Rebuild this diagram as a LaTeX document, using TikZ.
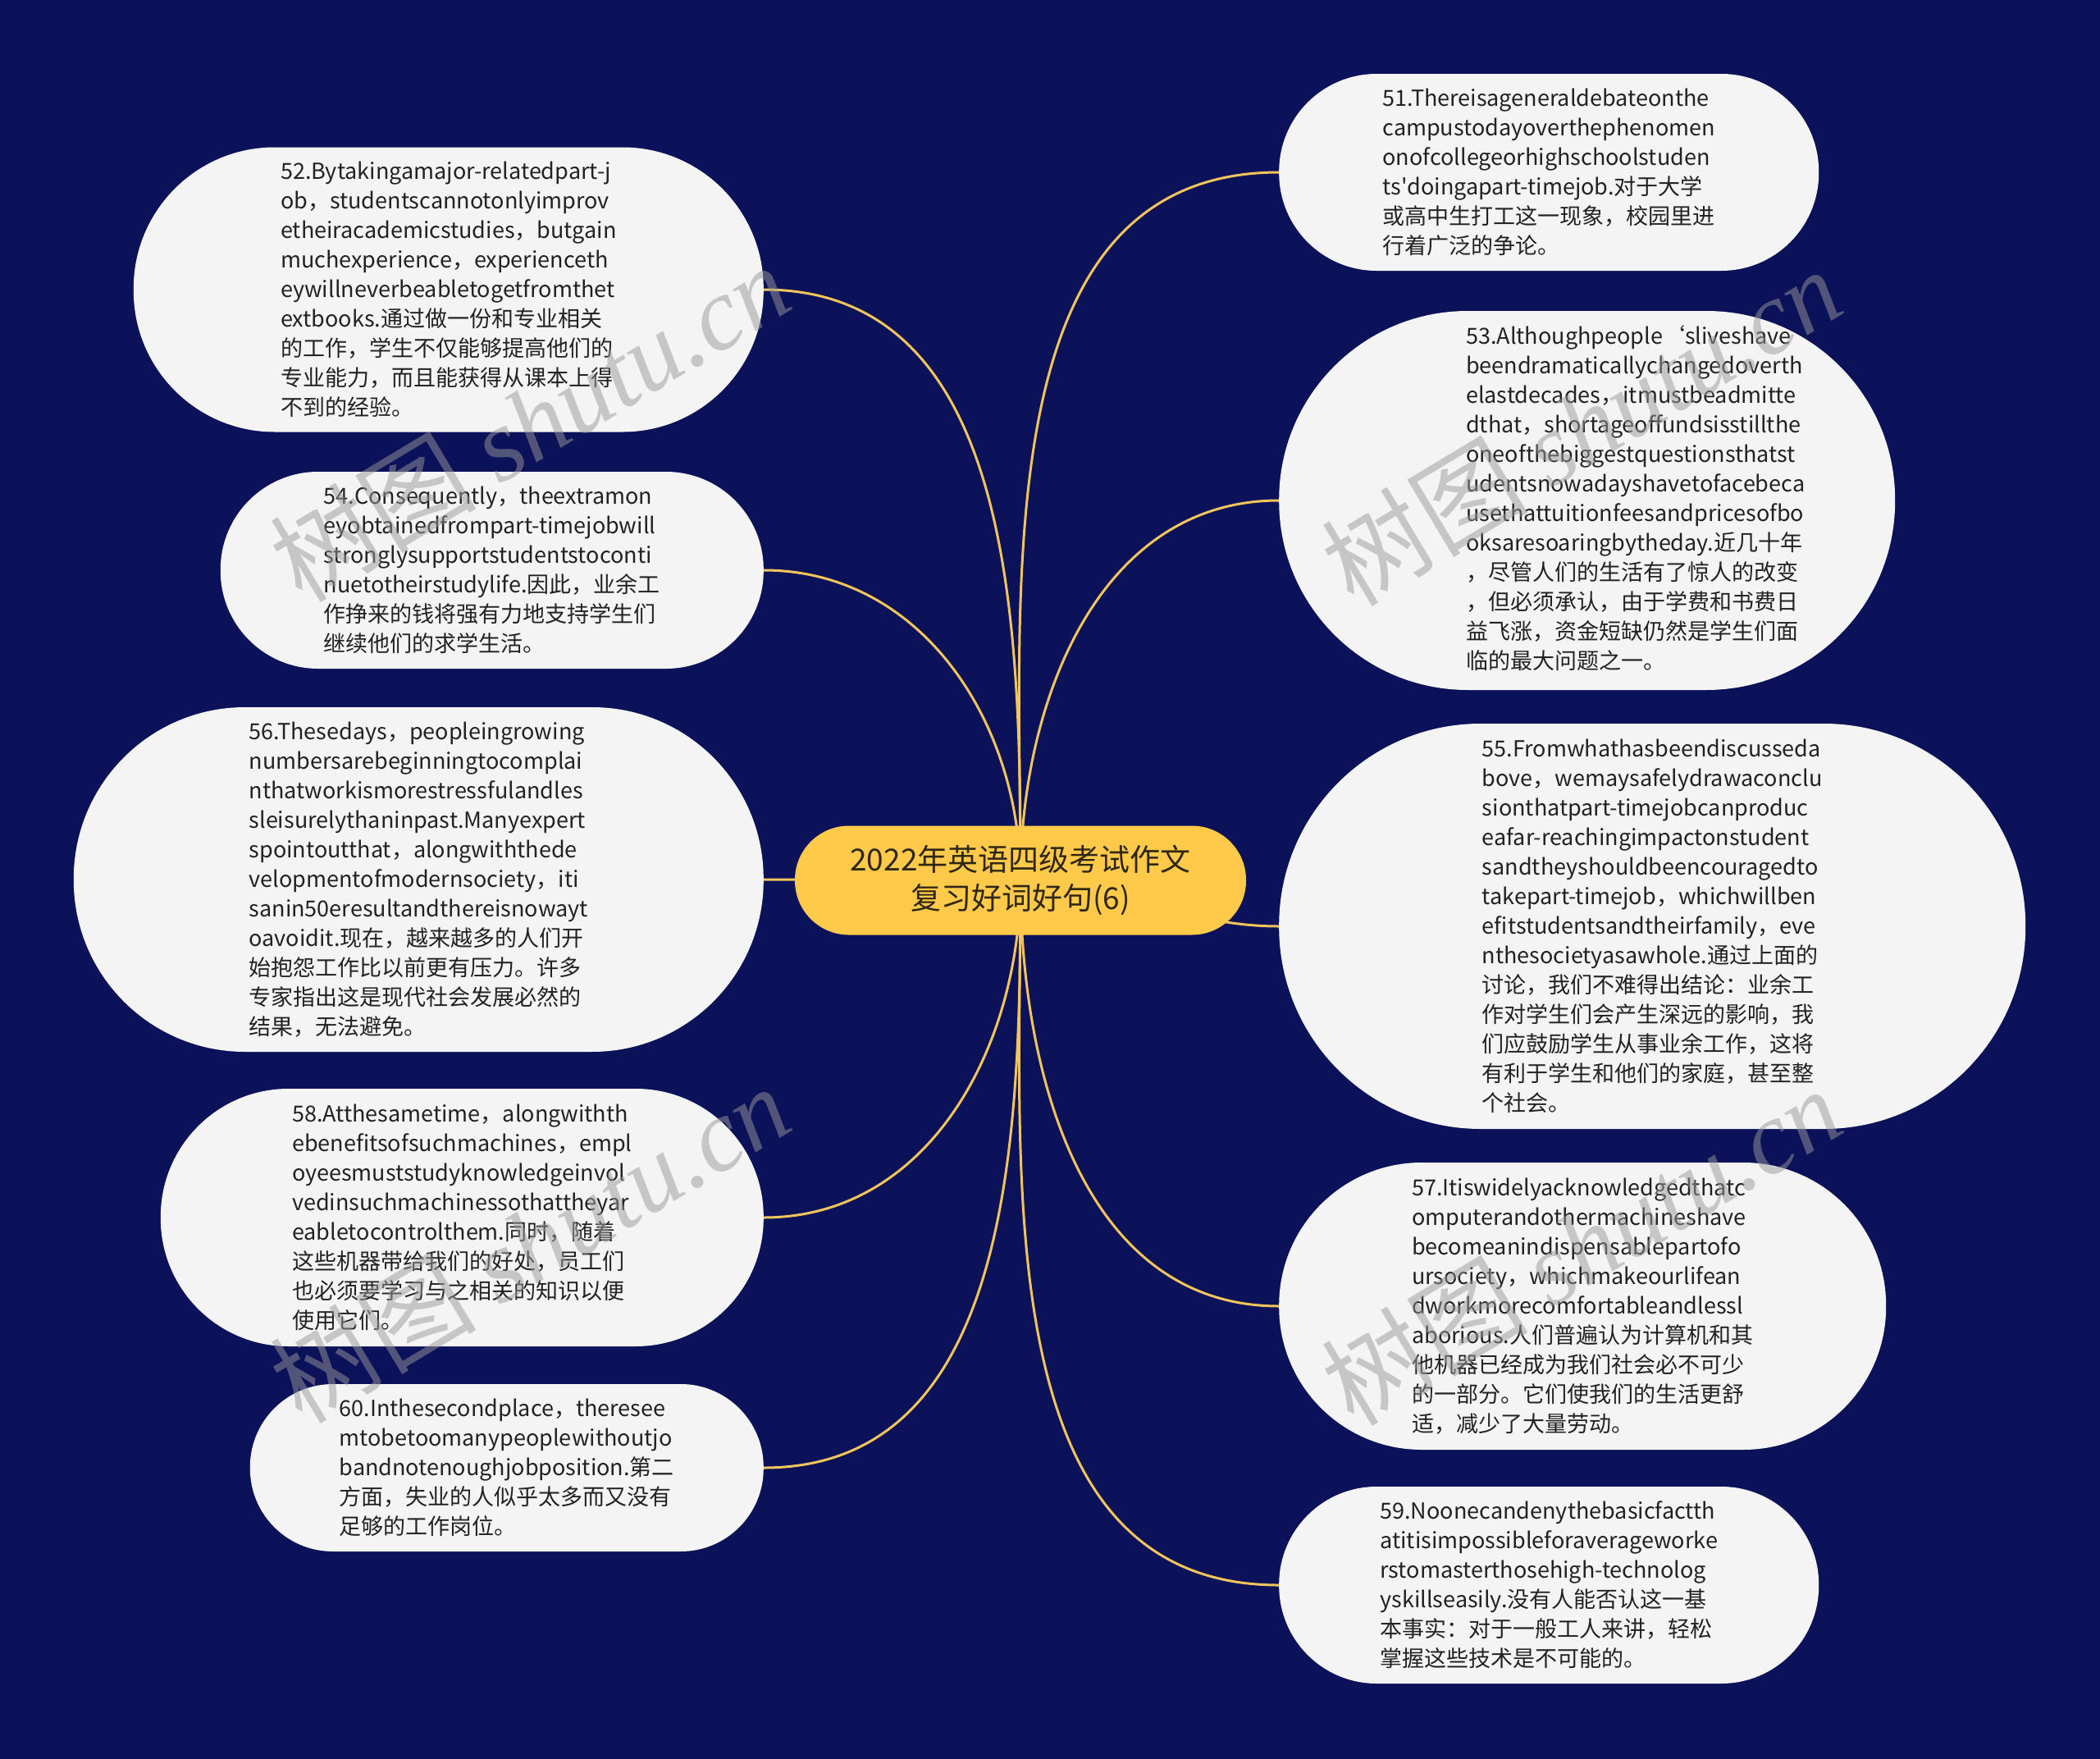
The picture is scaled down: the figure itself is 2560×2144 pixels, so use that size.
\documentclass[tikz,border=0pt]{standalone}
\usepackage{fontspec}
\setmainfont{Noto Sans CJK SC}
\newfontfamily\wmlatin{Liberation Serif}
\definecolor{bgnavy}{HTML}{0C1259}
\definecolor{leaffill}{HTML}{F4F4F5}
\definecolor{hubfill}{HTML}{FFC94A}
\definecolor{linkcol}{HTML}{F2C55C}
\definecolor{leaftext}{HTML}{222222}
\definecolor{hubtext}{HTML}{2E2812}
\pgfdeclarelayer{backlayer}
\pgfdeclarelayer{linklayer}
\pgfsetlayers{backlayer,linklayer,main}
\newcommand{\wmtext}{\fontsize{126}{126}\selectfont 树图\ {\wmlatin\itshape shutu.cn}}
\begin{document}
\begin{tikzpicture}[x=1pt,y=-1pt,
  leaf/.style n args={3}{fill=leaffill, text=leaftext, align=left, inner sep=0pt,
    minimum width=#1, minimum height=#2, rounded corners=#3,
    font=\fontsize{27}{36}\selectfont},
  hub/.style={fill=hubfill, text=hubtext, align=center, inner sep=0pt,
    minimum width=550pt, minimum height=133pt, rounded corners=66pt,
    font=\fontsize{37}{47}\selectfont},
  link/.style={draw=linkcol, line width=3pt},
  wm/.style={text=black!40, opacity=0.5, rotate=31, inner sep=0pt}
]
\begin{pgfonlayer}{backlayer}
\fill[bgnavy] (0,0) rectangle (2560,2144);
\end{pgfonlayer}
\useasboundingbox (0,0) rectangle (2560,2144);

\node[hub] (c) at (1244,1073) {2022年英语四级考试作文\\复习好词好句(6)};

% left side
\node[leaf={768pt}{347pt}{172pt}, anchor=east] (n52) at (931,353) {52.Bytakingamajor-relatedpart-j\\ob，studentscannotonlyimprov\\etheiracademicstudies，butgain\\muchexperience，experienceth\\eywillneverbeabletogetfromthet\\extbooks.通过做一份和专业相关\\的工作，学生不仅能够提高他们的\\专业能力，而且能获得从课本上得\\不到的经验。};
\node[leaf={662pt}{240pt}{119pt}, anchor=east] (n54) at (931,695) {54.Consequently，theextramon\\eyobtainedfrompart-timejobwill\\stronglysupportstudentstoconti\\nuetotheirstudylife.因此，业余工\\作挣来的钱将强有力地支持学生们\\继续他们的求学生活。};
\node[leaf={841pt}{420pt}{209pt}, anchor=east] (n56) at (931,1072) {56.Thesedays，peopleingrowing\\numbersarebeginningtocomplai\\nthatworkismorestressfulandles\\sleisurelythaninpast.Manyexpert\\spointoutthat，alongwiththede\\velopmentofmodernsociety，iti\\sanin50eresultandthereisnowayt\\oavoidit.现在，越来越多的人们开\\始抱怨工作比以前更有压力。许多\\专家指出这是现代社会发展必然的\\结果，无法避免。};
\node[leaf={735pt}{314pt}{156pt}, anchor=east] (n58) at (931,1484) {58.Atthesametime，alongwithth\\ebenefitsofsuchmachines，empl\\oyeesmuststudyknowledgeinvol\\vedinsuchmachinessothattheyar\\eabletocontrolthem.同时，随着\\这些机器带给我们的好处，员工们\\也必须要学习与之相关的知识以便\\使用它们。};
\node[leaf={626pt}{204pt}{101pt}, anchor=east] (n60) at (931,1789) {60.Inthesecondplace，theresee\\mtobetoomanypeoplewithoutjo\\bandnotenoughjobposition.第二\\方面，失业的人似乎太多而又没有\\足够的工作岗位。};

% right side
\node[leaf={658pt}{240pt}{119pt}, anchor=west] (n51) at (1559,210) {51.Thereisageneraldebateonthe\\campustodayoverthephenomen\\onofcollegeorhighschoolstuden\\ts\textquotesingle{}doingapart-timejob.对于大学\\或高中生打工这一现象，校园里进\\行着广泛的争论。};
\node[leaf={751pt}{462pt}{230pt}, anchor=west] (n53) at (1559,610) {\hspace*{118pt}\begin{tabular}{@{}l@{}}53.Althoughpeople‘sliveshave\\beendramaticallychangedoverth\\elastdecades，itmustbeadmitte\\dthat，shortageoffundsisstillthe\\oneofthebiggestquestionsthatst\\udentsnowadayshavetofacebeca\\usethattuitionfeesandpricesofbo\\oksaresoaringbytheday.近几十年\\，尽管人们的生活有了惊人的改变\\，但必须承认，由于学费和书费日\\益飞涨，资金短缺仍然是学生们面\\临的最大问题之一。\end{tabular}};
\node[leaf={910pt}{494pt}{246pt}, anchor=west] (n55) at (1559,1129) {55.Fromwhathasbeendiscusseda\\bove，wemaysafelydrawaconclu\\sionthatpart-timejobcanproduc\\eafar-reachingimpactonstudent\\sandtheyshouldbeencouragedto\\takepart-timejob，whichwillben\\efitstudentsandtheirfamily，eve\\nthesocietyasawhole.通过上面的\\讨论，我们不难得出结论：业余工\\作对学生们会产生深远的影响，我\\们应鼓励学生从事业余工作，这将\\有利于学生和他们的家庭，甚至整\\个社会。};
\node[leaf={740pt}{350pt}{174pt}, anchor=west] (n57) at (1559,1592) {57.Itiswidelyacknowledgedthatc\\omputerandothermachineshave\\becomeanindispensablepartofo\\ursociety，whichmakeourlifean\\dworkmorecomfortableandlessl\\aborious.人们普遍认为计算机和其\\他机器已经成为我们社会必不可少\\的一部分。它们使我们的生活更舒\\适，减少了大量劳动。};
\node[leaf={658pt}{240pt}{119pt}, anchor=west] (n59) at (1559,1932) {59.Noonecandenythebasicfactth\\atitisimpossibleforaverageworke\\rstomasterthosehigh-technolog\\yskillseasily.没有人能否认这一基\\本事实：对于一般工人来讲，轻松\\掌握这些技术是不可能的。};

\begin{pgfonlayer}{linklayer}
\draw[link] (c.center) to[out=90,in=0] (n52.east);
\draw[link] (c.center) to[out=90,in=0] (n54.east);
\draw[link] (c.center) to[out=180,in=0] (n56.east);
\draw[link] (c.center) to[out=270,in=0] (n58.east);
\draw[link] (c.center) to[out=270,in=0] (n60.east);
\draw[link] (c.center) to[out=90,in=180] (n51.west);
\draw[link] (c.center) to[out=90,in=180] (n53.west);
\draw[link] (c.center) to[out=0,in=180] (n55.west);
\draw[link] (c.center) to[out=270,in=180] (n57.west);
\draw[link] (c.center) to[out=270,in=180] (n59.west);
\end{pgfonlayer}

% watermarks
\node[wm] (w1) at (645,514) {\wmtext};
\node[wm] (w2) at (1927,519) {\wmtext};
\node[wm] (w3) at (645,1515) {\wmtext};
\node[wm] (w4) at (1927,1518) {\wmtext};
\end{tikzpicture}
\end{document}
